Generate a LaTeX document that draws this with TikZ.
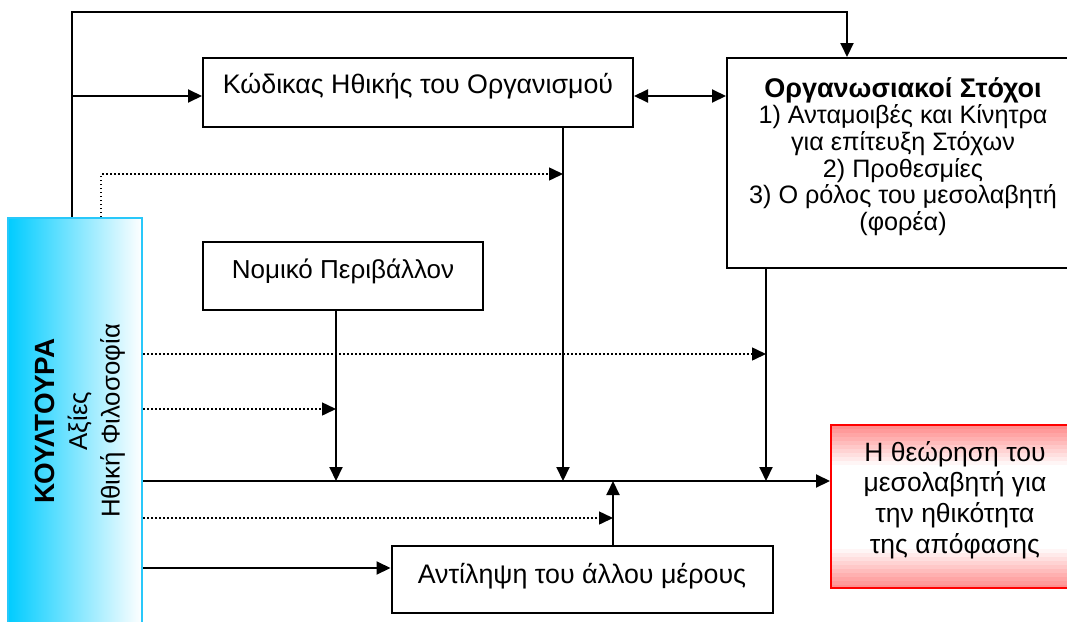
\documentclass[tikz,border=0pt]{standalone}
\usepackage{fontspec}
\setmainfont{Liberation Sans}
\usetikzlibrary{arrows.meta,calc,shadings}
\definecolor{cultcyan}{RGB}{0,204,255}
\definecolor{cultedge}{RGB}{40,200,250}

\begin{document}
\begin{tikzpicture}[x=1pt,y=-1pt,
  box/.style={draw=black, line width=2pt, fill=white, inner sep=0pt},
  txt/.style={align=center, inner sep=0pt},
  tip/.style={-{Triangle[length=14pt,width=13pt]}},
  arr/.style={line width=2pt, tip},
  biarr/.style={line width=2pt, {Triangle[length=14pt,width=13pt]}-{Triangle[length=14pt,width=13pt]}},
  dotarr/.style={line width=1.5pt, dash pattern=on 1.5pt off 2.5pt, tip},
  % red in two opposite corners, fading to white across the diagonal
  diagred/.style={path picture={
    \begin{scope}[shift={(path picture bounding box.center)}, rotate=33.3]
      \foreach \s in {-150,-146,...,146} {
        \pgfmathsetmacro\q{max(0,(abs(\s+2)/136-0.3)/0.65)}
        \pgfmathsetmacro\p{min(100,100*\q)}
        \fill[red!\p!white] (-200,\s) rectangle (200,\s+4.6);
      }
    \end{scope}}},
]
\useasboundingbox (0,0) rectangle (1067,621);

% culture column on the left
\node[draw=cultedge, line width=2pt, left color=cultcyan, right color=white,
      minimum width=134pt, minimum height=406pt, inner sep=0pt] (cult) at (75,421) {};
\node[txt, rotate=90, font=\fontsize{25.8}{32.5}\selectfont] (culttxt) at (80,421)
  {{\fontsize{27.8}{32.5}\selectfont\bfseries ΚΟΥΛΤΟΥΡΑ}\\Αξίες\\Ηθική Φιλοσοφία};

% boxes
\node[box, minimum width=430pt, minimum height=69pt] (kod) at (418,92.5) {};
\node[txt, font=\fontsize{26.8}{30}\selectfont] (kodtxt) at ([yshift=6pt]kod.center)
  {Κώδικας Ηθικής του Οργανισμού};

\node[box, minimum width=352pt, minimum height=210pt] (org) at (903,163) {};
\node[txt, font=\fontsize{25.2}{26.7}\selectfont] (orgtxt) at ([yshift=6.5pt]org.center)
  {{\fontsize{27}{26.7}\selectfont\bfseries Οργανωσιακοί Στόχοι}\\1) Ανταμοιβές και Κίνητρα\\για επίτευξη Στόχων\\2) Προθεσμίες\\3) Ο ρόλος του μεσολαβητή\\(φορέα)};

\node[box, minimum width=280pt, minimum height=68pt] (nom) at (343,276) {};
\node[txt, font=\fontsize{26}{30}\selectfont] (nomtxt) at ([yshift=5pt]nom.center)
  {Νομικό Περιβάλλον};

\node[box, minimum width=381pt, minimum height=67pt] (ant) at (582,579) {};
\node[txt, font=\fontsize{26.8}{30}\selectfont] (anttxt) at ([yshift=2.5pt]ant.center)
  {Αντίληψη του άλλου μέρους};

% outcome box
\node[draw=red, line width=2pt, inner sep=0pt, diagred,
      minimum width=248pt, minimum height=163pt] (out) at (955,506.5) {};
\node[txt, font=\fontsize{26.5}{30.8}\selectfont] (outtxt) at ([yshift=6.5pt]out.center)
  {Η θεώρηση του\\μεσολαβητή για\\την ηθικότητα\\της απόφασης};

% ports on the culture column
\path (cult.north west) ++(65,0) coordinate (cN1) ++(29,0) coordinate (cN2);
\path (cult.east) ++(0,-67) coordinate (cE1)
      (cult.east) ++(0,-12) coordinate (cE2)
      (cult.east) ++(0,60)  coordinate (cE3)
      (cult.east) ++(0,97)  coordinate (cE4)
      (cult.east) ++(0,147) coordinate (cE5);

% ports on the boxes
\coordinate (kodOut) at ([xshift=145pt]kod.south);
\coordinate (nomOut) at ([xshift=-7pt]nom.south);
\coordinate (orgOut) at ([xshift=-137pt]org.south);
\coordinate (antOut) at ([xshift=31pt]ant.north);
\coordinate (orgIn)  at ([xshift=-56pt]org.north);
\coordinate (kodIn)  at ([yshift=-3.5pt]kod.west);
\path (kodOut) ++(0,46) coordinate (kodDot);
\path (orgIn) ++(0,-45) coordinate (topRun);

% connectors
\draw[arr] (cN1) |- (topRun) -- (orgIn);
\draw[arr] (cN1 |- kodIn) -- (kodIn);
\draw[biarr] (kodIn -| kod.east) -- (kodIn -| org.west);
\draw[dotarr] (cN2) |- (kodDot);

\draw[arr] (kodOut) -- (kodOut |- cE3);
\draw[arr] (nomOut) -- (nomOut |- cE3);
\draw[arr] (orgOut) -- (orgOut |- cE3);
\draw[arr] (antOut) -- (antOut |- cE3);

\draw[arr] (cE3) -- (cE3 -| out.west);
\draw[dotarr] (cE1) -- (cE1 -| orgOut);
\draw[dotarr] (cE2) -- (cE2 -| nomOut);
\draw[dotarr] (cE4) -- (cE4 -| antOut);
\draw[arr] (cE5) -- (cE5 -| ant.west);
\end{tikzpicture}
\end{document}
